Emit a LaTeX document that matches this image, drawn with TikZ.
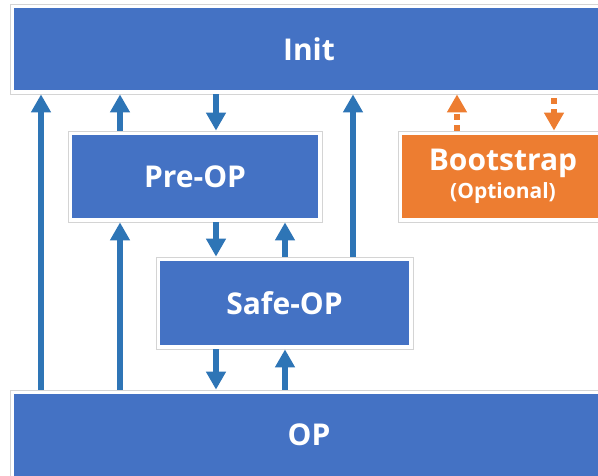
\documentclass[tikz,border=0pt]{standalone}
\usepackage{fontspec}
\setmainfont{Open Sans}
\usetikzlibrary{arrows.meta}
\definecolor{stateblue}{HTML}{4472C4}
\definecolor{bootorange}{HTML}{ED7D31}
\definecolor{arrowblue}{HTML}{2E75B6}
\definecolor{framegray}{HTML}{D4D4D4}
\tikzset{state/.style={rectangle,draw=framegray,line width=0.8pt,fill=white,text=white,inner sep=0pt,
  font=\bfseries\fontsize{30}{34}\selectfont,align=center,
  path picture={\fill[#1] ([xshift=4pt,yshift=-4pt]path picture bounding box.north west)
    rectangle ([xshift=-4pt,yshift=4pt]path picture bounding box.south east);}},
  state/.default=stateblue}
\tikzset{flow/.style={draw=arrowblue,line width=6pt,-{Triangle[width=19pt,length=18pt]}}}
\tikzset{optflow/.style={draw=bootorange,line width=6pt,dash pattern=on 6pt off 5pt,-{Triangle[width=19pt,length=18pt]}}}

\begin{document}
\begin{tikzpicture}[x=1pt,y=-1pt]
  \fill[white] (0,0) rectangle (598,475);
  \useasboundingbox (0,0) rectangle (598,475);
      \node[state,minimum width=598pt,minimum height=90pt] (init) at (309,49) {Init};
      \node[state,minimum width=254pt,minimum height=91pt] (pre) at (195,176.5) {Pre-OP};
      \node[state=bootorange,minimum width=210pt,minimum height=91pt] (boot) at (503,176.5)
        {Bootstrap\\[-6pt]{\fontsize{21}{24}\selectfont(Optional)}};
      \node[state,minimum width=257pt,minimum height=92pt] (safe) at (284.5,303) {Safe-OP};
      \node[state,minimum width=598pt,minimum height=90pt] (op) at (309,435) {OP};
      % columns of the arrows
      \coordinate (c1) at (41,0);
      \coordinate (c2) at (120,0);
      \coordinate (c3) at (216,0);
      \coordinate (c4) at (285,0);
      \coordinate (c5) at (353,0);
      \coordinate (c6) at (457,0);
      \coordinate (c7) at (554,0);
        \draw[flow] (op.north -| c1) -- (init.south -| c1);
        \draw[flow] (op.north -| c2) -- (pre.south -| c2);
        \draw[flow] (pre.north -| c2) -- (init.south -| c2);
        \draw[flow] (init.south -| c3) -- (pre.north -| c3);
        \draw[flow] (pre.south -| c3) -- (safe.north -| c3);
        \draw[flow] (safe.south -| c3) -- (op.north -| c3);
        \draw[flow] (safe.north -| c4) -- (pre.south -| c4);
        \draw[flow] (op.north -| c4) -- (safe.south -| c4);
        \draw[flow] (safe.north -| c5) -- (init.south -| c5);
        \draw[optflow] (boot.north -| c6) -- (init.south -| c6);
        \draw[optflow,dash phase=7pt] (init.south -| c7) -- (boot.north -| c7);
\end{tikzpicture}
\end{document}
